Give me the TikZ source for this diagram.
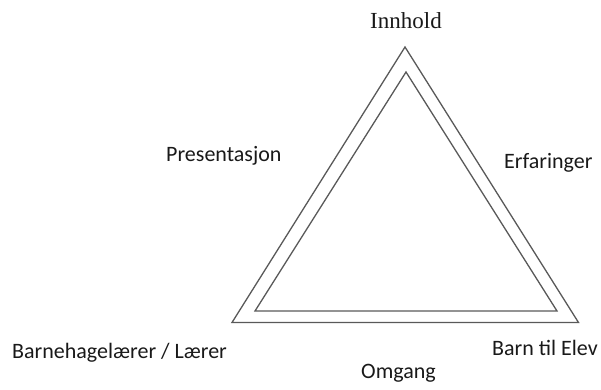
\documentclass[tikz,border=0pt]{standalone}
\usepackage{fontspec}
\setmainfont{Carlito}
\newfontfamily\serifface{Liberation Serif}
\begin{document}
\begin{tikzpicture}[x=1pt,y=-1pt,
  edge/.style={draw=black!65, line width=1.3pt, line join=miter},
  lbl/.style={inner sep=0pt, anchor=base west, font=\fontsize{22}{26}\selectfont, text=black!90},
  ttl/.style={inner sep=0pt, anchor=base, font=\serifface\fontsize{23}{27}\selectfont, text=black!90}]
\useasboundingbox (0,0) rectangle (601,389);
% outer triangle
\coordinate (oa) at (405,47);
\coordinate (ol) at (232,322.5);
\coordinate (or) at (578.5,322.5);
% inner triangle
\coordinate (ia) at (406,72);
\coordinate (il) at (255,311);
\coordinate (ir) at (557,311);
\draw[edge] (oa) -- (ol) -- (or) -- cycle;
\draw[edge] (ia) -- (il) -- (ir) -- cycle;
% labels
\node[ttl] (innhold) at (406,28) {Innhold};
\node[lbl] (pres) at (166,161) {Presentasjon};
\node[lbl] (erf) at (504,168) {Erfaringer};
\node[lbl] (bhl) at (12,358) {Barnehagelærer / Lærer};
\node[lbl] (bte) at (492,355) {Barn til Elev};
\node[lbl] (omg) at (361,378) {Omgang};
\end{tikzpicture}
\end{document}
